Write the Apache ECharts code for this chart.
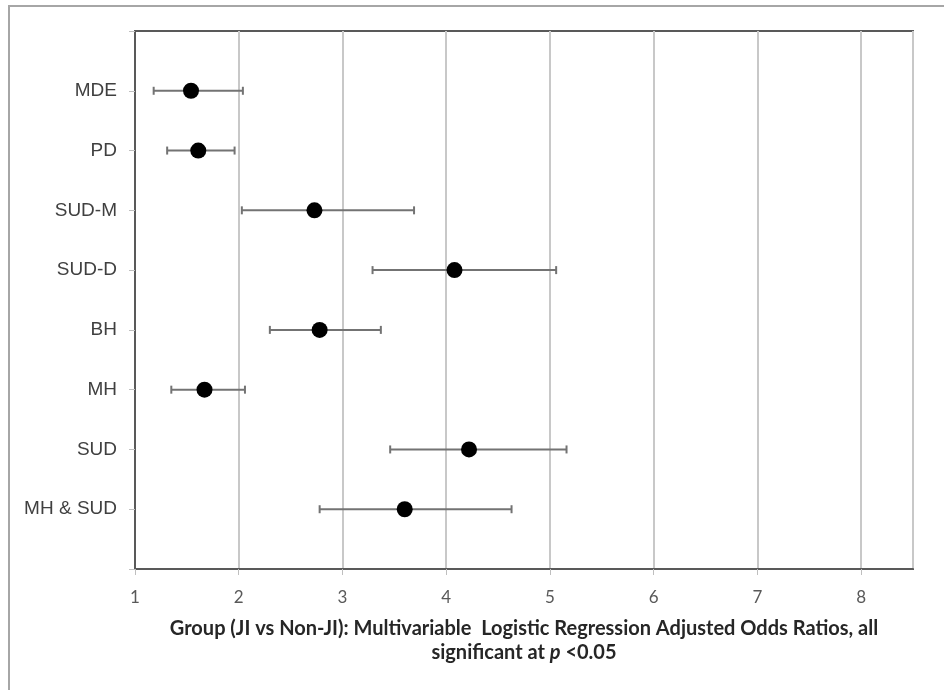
<!DOCTYPE html>
<html>
<head>
<meta charset="utf-8">
<script src="https://cdn.jsdelivr.net/npm/echarts@6/dist/echarts.min.js"></script>
<style>
  html, body { margin: 0; padding: 0; background: #fff; }
  #main { width: 944px; height: 690px; }
</style>
</head>
<body>
<div id="main"></div>
<script>
// 分组名称 (从上到下)
let groups = ['MDE', 'PD', 'SUD-M', 'SUD-D', 'BH', 'MH', 'SUD', 'MH & SUD'];
// 调整后的比值比及置信区间
let oddsRatio = [1.54, 1.61, 2.73, 4.08, 2.78, 1.67, 4.22, 3.60];
let ciLow = [1.18, 1.31, 2.03, 3.29, 2.30, 1.35, 3.46, 2.78];
let ciHigh = [2.04, 1.96, 3.69, 5.06, 3.37, 2.06, 5.16, 4.63];
let xTicks = [1, 2, 3, 4, 5, 6, 7, 8];

let n = groups.length;
// y 位置: 第一个分组在最上面
let pos = groups.map((g, i) => n - i);

let errData = groups.map((g, i) => [ciLow[i], ciHigh[i], pos[i]]);
let pointData = groups.map((g, i) => [oddsRatio[i], pos[i]]);

let chart = echarts.init(document.getElementById('main'));

let titleFont = { fontFamily: 'Lato', fontWeight: 'bold', fontSize: 20, color: '#262626' };

let option = {
    animation: false,
    backgroundColor: '#fff',
    graphic: [{
        type: 'rect',
        shape: { x: 9, y: 6, width: 960, height: 720 },
        style: { fill: null, stroke: '#a6a6a6', lineWidth: 2 },
        silent: true,
        z: -1
    }],
    grid: {
        left: 135,
        top: 31,
        right: 31,
        bottom: 121,
        show: true,
        borderColor: '#595959',
        borderWidth: 2,
        backgroundColor: 'transparent'
    },
    xAxis: {
        type: 'value',
        min: 1,
        max: 8.5,
        interval: 1,
        name: 'Group (JI vs Non-JI): Multivariable  Logistic Regression Adjusted Odds Ratios, all\n{n|significant at }{i|p}{n| <0.05}',
        nameLocation: 'middle',
        nameGap: 48,
        nameTextStyle: Object.assign({}, titleFont, {
            lineHeight: 24,
            rich: {
                n: Object.assign({}, titleFont),
                i: Object.assign({}, titleFont, { fontStyle: 'italic' })
            }
        }),
        axisLine: { show: true, lineStyle: { color: '#595959', width: 2 } },
        axisTick: { show: true, length: 6, lineStyle: { color: '#bfbfbf', width: 1 } },
        axisLabel: {
            margin: 20,
            fontFamily: 'Lato',
            fontSize: 17,
            color: '#595959',
            showMaxLabel: false,
            formatter: v => xTicks.indexOf(v) >= 0 ? String(v) : ''
        },
        splitLine: { show: true, lineStyle: { color: '#c8c8c8', width: 2 } }
    },
    yAxis: {
        type: 'value',
        min: 0,
        max: n + 1,
        interval: 1,
        axisLine: { show: true, lineStyle: { color: '#595959', width: 2 } },
        axisTick: { show: true, length: 6, lineStyle: { color: '#bfbfbf', width: 1 } },
        axisLabel: {
            margin: 18,
            fontFamily: 'Liberation Sans',
            fontSize: 19,
            color: '#404040',
            formatter: v => {
                let idx = n - v;
                return (idx >= 0 && idx < n) ? groups[idx] : '';
            }
        },
        splitLine: { show: false }
    },
    series: [{
        type: 'custom',
        data: errData,
        encode: { x: [0, 1], y: 2 },
        z: 2,
        renderItem: function (params, api) {
            let y = api.value(2);
            let p1 = api.coord([api.value(0), y]);
            let p2 = api.coord([api.value(1), y]);
            let cap = 4;
            let style = { stroke: '#737373', lineWidth: 2 };
            return {
                type: 'group',
                children: [
                    { type: 'line', shape: { x1: p1[0], y1: p1[1], x2: p2[0], y2: p2[1] }, style: style },
                    { type: 'line', shape: { x1: p1[0], y1: p1[1] - cap, x2: p1[0], y2: p1[1] + cap }, style: style },
                    { type: 'line', shape: { x1: p2[0], y1: p2[1] - cap, x2: p2[0], y2: p2[1] + cap }, style: style }
                ]
            };
        }
    }, {
        type: 'scatter',
        data: pointData,
        symbol: 'circle',
        symbolSize: 16,
        z: 3,
        itemStyle: { color: '#000', opacity: 1 }
    }]
};

chart.setOption(option);
</script>
</body>
</html>
